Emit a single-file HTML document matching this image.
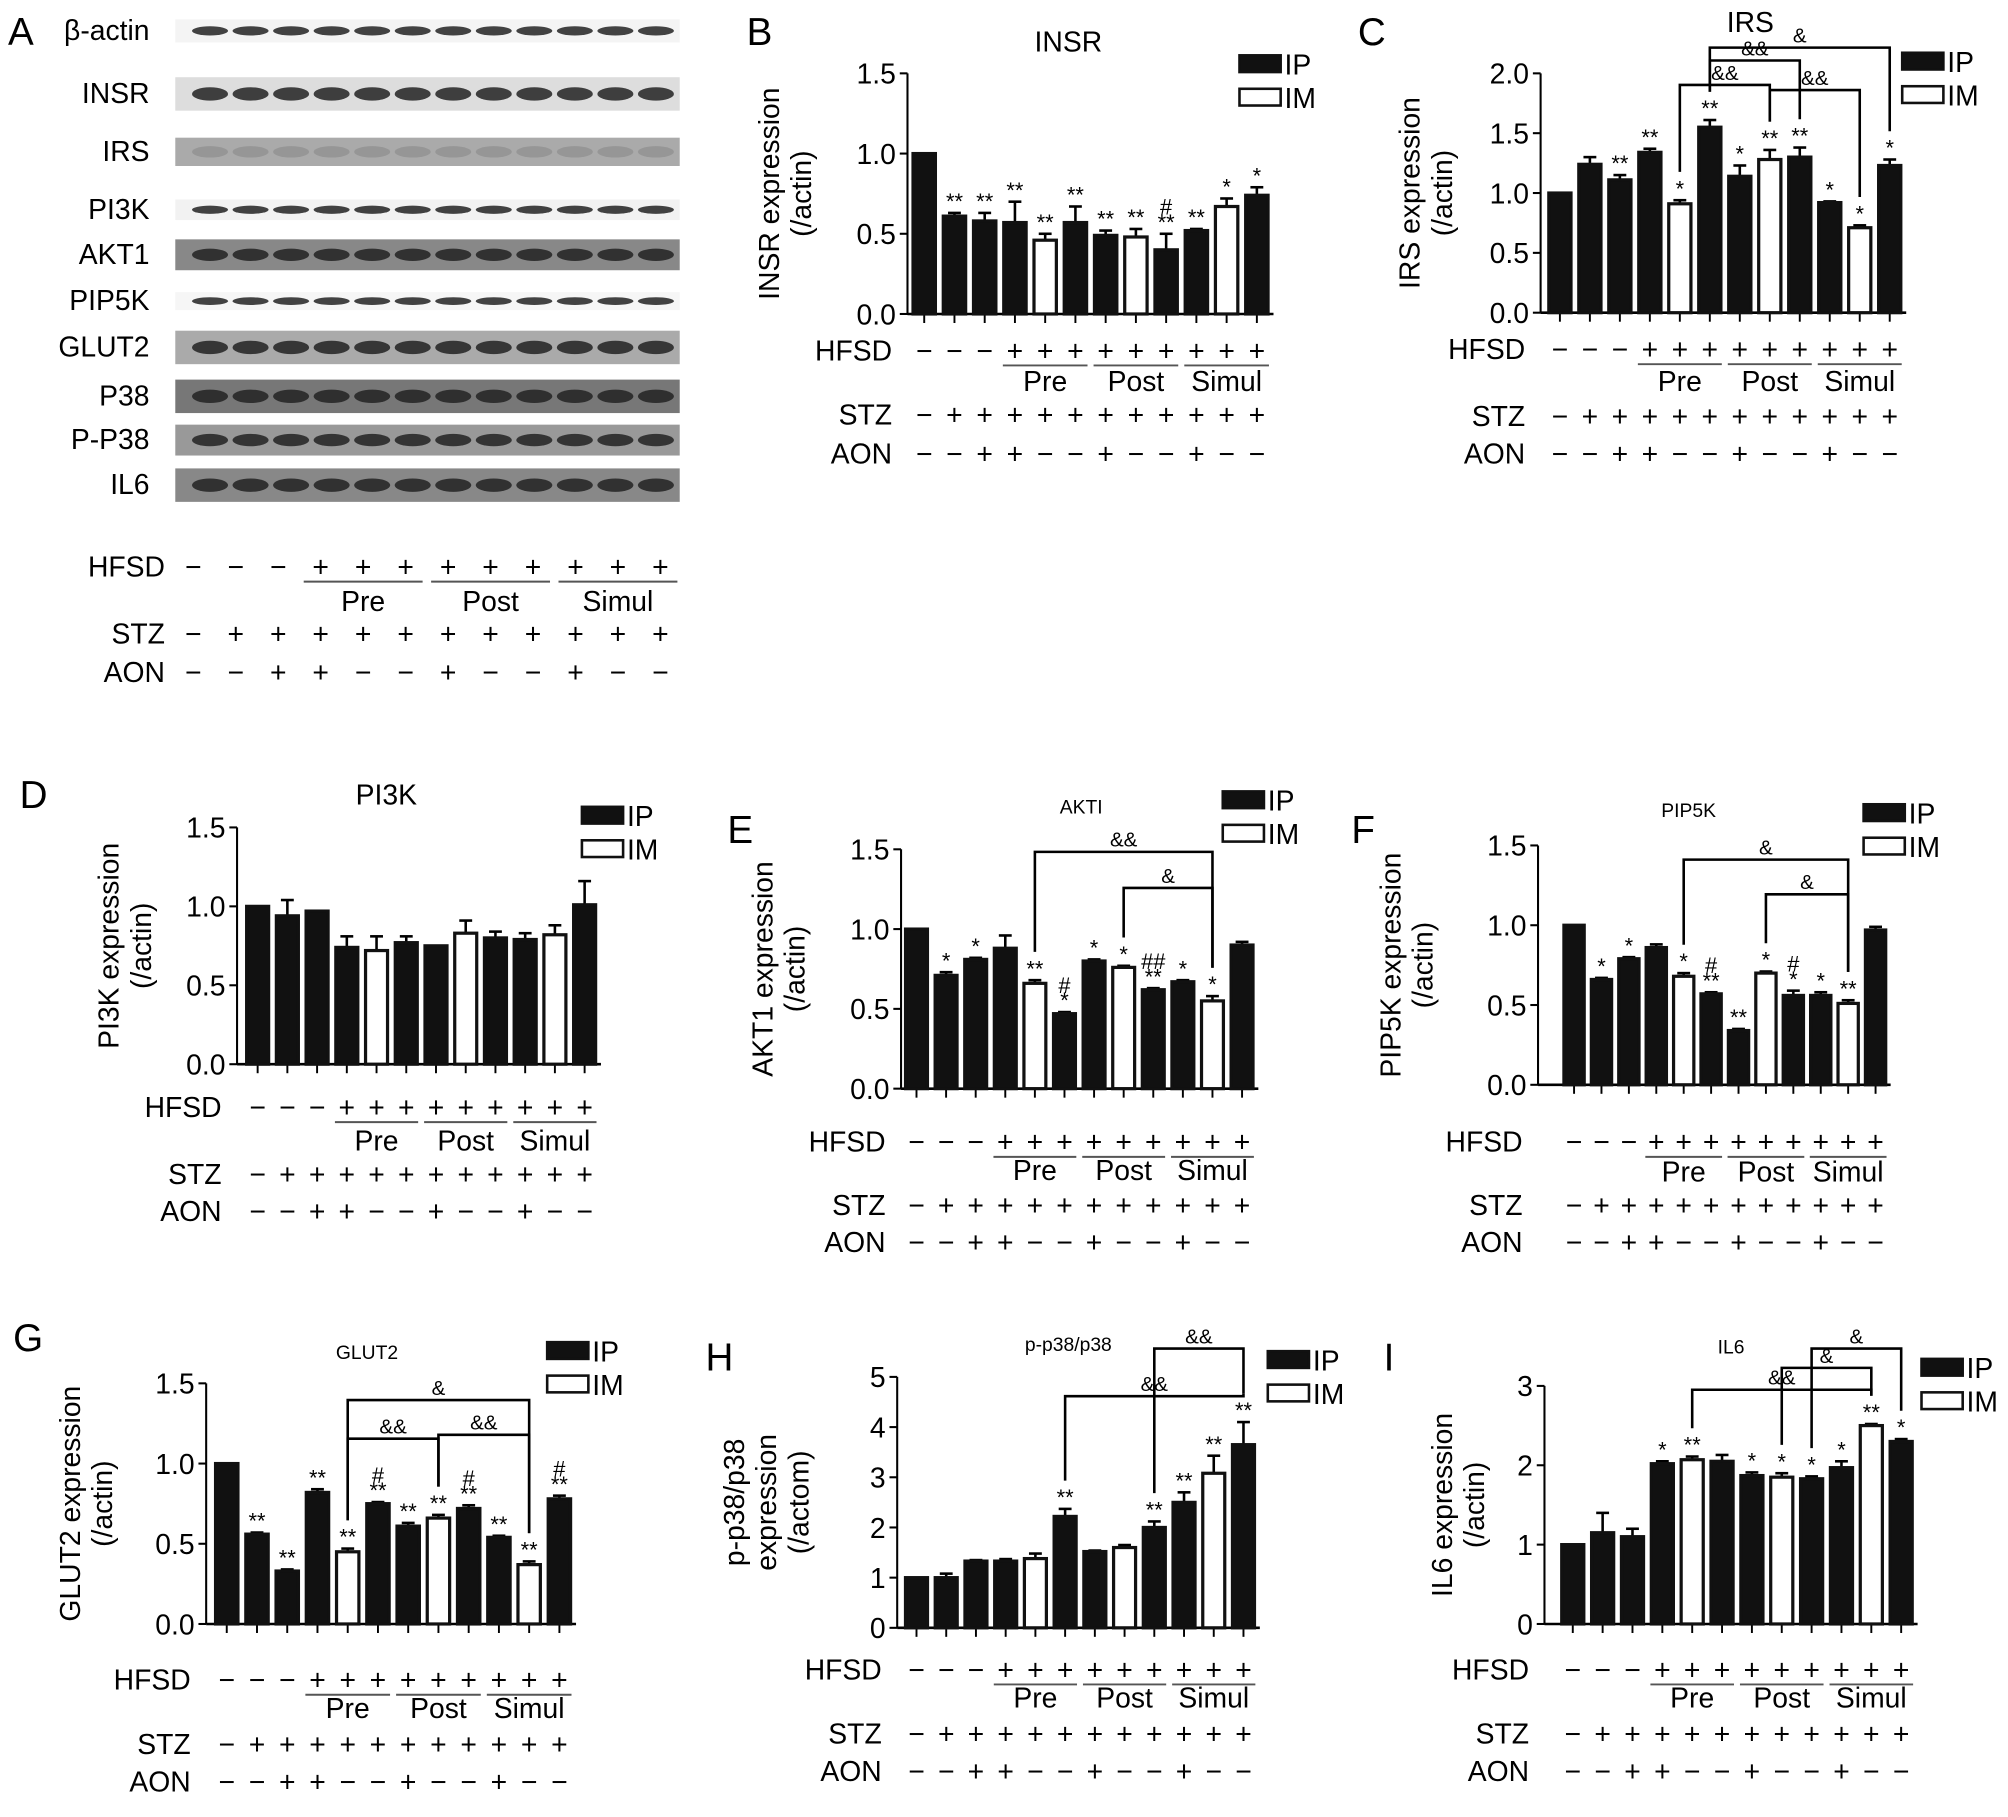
<!DOCTYPE html>
<html><head><meta charset="utf-8"><style>
html,body{margin:0;padding:0;background:#fff}
svg{display:block}
text{font-family:"Liberation Sans",sans-serif;fill:#000}
</style></head><body>
<svg id="fig" width="2008" height="1817" viewBox="0 0 1560 1412" xmlns="http://www.w3.org/2000/svg"></svg>
<script>
const NS='http://www.w3.org/2000/svg';
const svg=document.getElementById('fig');
function el(tag,attrs,parent,txt){const e=document.createElementNS(NS,tag);for(const k in attrs)e.setAttribute(k,attrs[k]);if(txt!==undefined)e.textContent=txt;(parent||svg).appendChild(e);return e;}

const hfsdRow=['-','-','-','+','+','+','+','+','+','+','+','+'];
const stzRow=['-','+','+','+','+','+','+','+','+','+','+','+'];
const aonRow=['-','-','+','+','-','-','+','-','-','+','-','-'];
const groupNames=['Pre','Post','Simul'];
const openIdx=[4,7,10];

const insrVals=[1.0,0.61,0.58,0.57,0.46,0.57,0.49,0.48,0.40,0.52,0.67,0.74];
const insrErr=[0,0.02,0.05,0.13,0.04,0.10,0.03,0.05,0.10,0.01,0.05,0.05];
const insrStars=['','**','**','**','**','**','**','**','#\n**','**','*','*'];
const irsVals=[1.0,1.24,1.11,1.34,0.91,1.55,1.14,1.28,1.30,0.92,0.71,1.23];
const irsErr=[0,0.06,0.04,0.03,0.03,0.06,0.09,0.08,0.08,0.01,0.02,0.05];
const irsStars=['','','**','**','*','**','*','**','**','*','*','*'];
const pi3kVals=[1.0,0.94,0.97,0.74,0.72,0.77,0.75,0.83,0.80,0.79,0.82,1.01];
const pi3kErr=[0,0.10,0,0.07,0.09,0.04,0,0.08,0.04,0.04,0.06,0.15];
const pi3kStars=['','','','','','','','','','','',''];
const akt1Vals=[1.0,0.71,0.81,0.88,0.66,0.47,0.80,0.76,0.62,0.67,0.55,0.90];
const akt1Err=[0,0.02,0.01,0.08,0.02,0.01,0.01,0.01,0.01,0.01,0.03,0.02];
const akt1Stars=['','*','*','','**','#\n*','*','*','##\n**','*','*',''];
const pip5kVals=[1.0,0.66,0.79,0.86,0.68,0.57,0.34,0.70,0.56,0.56,0.51,0.97];
const pip5kErr=[0,0.01,0.01,0.02,0.02,0.01,0.01,0.01,0.03,0.02,0.02,0.02];
const pip5kStars=['','*','*','','*','#\n**','**','*','#\n*','*','**',''];
const glut2Vals=[1.0,0.56,0.33,0.82,0.45,0.75,0.61,0.66,0.72,0.54,0.37,0.78];
const glut2Err=[0,0.01,0.01,0.02,0.02,0.01,0.02,0.02,0.02,0.01,0.02,0.02];
const glut2Stars=['','**','**','**','**','#\n**','**','**','#\n**','**','**','#\n**'];
const p38Vals=[1.0,1.0,1.33,1.33,1.38,2.22,1.52,1.6,2.0,2.5,3.08,3.65];
const p38Err=[0,0.08,0.02,0.04,0.1,0.15,0.02,0.05,0.12,0.2,0.35,0.45];
const p38Stars=['','','','','','**','','','**','**','**','**'];
const il6Vals=[1.0,1.15,1.1,2.02,2.07,2.05,1.87,1.85,1.83,1.97,2.5,2.3];
const il6Err=[0,0.25,0.1,0.03,0.04,0.08,0.04,0.05,0.03,0.08,0.02,0.03];
const il6Stars=['','','','*','**','','*','*','*','*','**','*'];

const panels=[
 {id:'insr',letter:'B',lx:580,ly:35,title:'INSR',tx:830,ty:40,tfs:22,ax:705,y0:244,yt:57,ymax:1.5,ticks:['0.0','0.5','1.0','1.5'],tv:[0,0.5,1,1.5],b0:718,step:23.5,ylab:['INSR expression','(/actin)'],ylx:605,vals:insrVals,err:insrErr,stars:insrStars,rows:[272,295,322,352],leg:[963,50],br:[]},
 {id:'irs',letter:'C',lx:1055,ly:35,title:'IRS',tx:1360,ty:25,tfs:22,ax:1197,y0:243,yt:57,ymax:2.0,ticks:['0.0','0.5','1.0','1.5','2.0'],tv:[0,0.5,1,1.5,2],b0:1212,step:23.3,ylab:['IRS expression','(/actin)'],ylx:1103,vals:irsVals,err:irsErr,stars:irsStars,rows:[271,295,323,352],leg:[1478,48],br:[[4,7,66,'&&'],[5,8,47,'&&'],[7,10,70,'&&'],[5,11,37,'&']]},
 {id:'pi3k',letter:'D',lx:15,ly:628,title:'PI3K',tx:300,ty:625,tfs:22,ax:184,y0:827,yt:643,ymax:1.5,ticks:['0.0','0.5','1.0','1.5'],tv:[0,0.5,1,1.5],b0:200,step:23.1,ylab:['PI3K expression','(/actin)'],ylx:92,vals:pi3kVals,err:pi3kErr,stars:pi3kStars,rows:[860,885,912,941],leg:[452,634],br:[]},
 {id:'akt1',letter:'E',lx:565,ly:655,title:'AKTI',tx:840,ty:632,tfs:15,ax:700,y0:846,yt:660,ymax:1.5,ticks:['0.0','0.5','1.0','1.5'],tv:[0,0.5,1,1.5],b0:712,step:23.0,ylab:['AKT1 expression','(/actin)'],ylx:600,vals:akt1Vals,err:akt1Err,stars:akt1Stars,rows:[887,908,936,965],leg:[950,622],br:[[4,10,662,'&&'],[7,10,690,'&']]},
 {id:'pip5k',letter:'F',lx:1050,ly:655,title:'PIP5K',tx:1312,ty:635,tfs:15,ax:1195,y0:843,yt:657,ymax:1.5,ticks:['0.0','0.5','1.0','1.5'],tv:[0,0.5,1,1.5],b0:1223,step:21.3,ylab:['PIP5K expression','(/actin)'],ylx:1088,vals:pip5kVals,err:pip5kErr,stars:pip5kStars,rows:[887,909,936,965],leg:[1448,632],br:[[4,10,668,'&'],[7,10,695,'&']]},
 {id:'glut2',letter:'G',lx:10,ly:1050,title:'GLUT2',tx:285,ty:1056,tfs:15,ax:160,y0:1262,yt:1075,ymax:1.5,ticks:['0.0','0.5','1.0','1.5'],tv:[0,0.5,1,1.5],b0:176,step:23.5,ylab:['GLUT2 expression','(/actin)'],ylx:62,vals:glut2Vals,err:glut2Err,stars:glut2Stars,rows:[1305,1326,1355,1384],leg:[425,1050],br:[[4,10,1088,'&'],[4,7,1118,'&&'],[7,10,1115,'&&']]},
 {id:'p38',letter:'H',lx:548,ly:1065,title:'p-p38/p38',tx:830,ty:1050,tfs:15,ax:697,y0:1265,yt:1070,ymax:5,ticks:['0','1','2','3','4','5'],tv:[0,1,2,3,4,5],b0:712,step:23.1,ylab:['p-p38/p38','expression','(/actom)'],ylx:578,vals:p38Vals,err:p38Err,stars:p38Stars,rows:[1297,1318,1347,1376],leg:[985,1057],br:[[5,11,1085,'&&'],[8,11,1048,'&&']]},
 {id:'il6',letter:'I',lx:1075,ly:1065,title:'IL6',tx:1345,ty:1052,tfs:15,ax:1200,y0:1262,yt:1077,ymax:3,ticks:['0','1','2','3'],tv:[0,1,2,3],b0:1222,step:23.2,ylab:['IL6 expression','(/actin)'],ylx:1128,vals:il6Vals,err:il6Err,stars:il6Stars,rows:[1297,1318,1347,1376],leg:[1493,1063],br:[[4,10,1080,'&&'],[7,10,1063,'&'],[8,11,1048,'&']]}
];

function drawPanel(p){
 const g=el('g',{},svg);
 
 
 const y=v=>p.y0-(v/p.ymax)*(p.y0-p.yt);
 const x=i=>p.b0+i*p.step;
 const bw=p.step*0.74;
 const L=el('text',{x:p.lx,y:p.ly,'font-size':30},g,p.letter);
 
 const T=el('text',{x:p.tx,y:p.ty,'font-size':p.tfs,'text-anchor':'middle'},g,p.title);
 
 const midY=(p.y0+p.yt)/2;
 p.ylab.forEach((s,k)=>{
  const t=el('text',{x:0,y:0,'font-size':22,'text-anchor':'middle',transform:`translate(${p.ylx+k*25},${midY}) rotate(-90)`},g,s);
  
 });
 const xend=x(p.vals.length-1)+p.step*0.55;
 el('line',{x1:p.ax,y1:p.yt,x2:p.ax,y2:p.y0,stroke:'#000','stroke-width':1.6},g);
 el('line',{x1:p.ax,y1:p.y0,x2:xend,y2:p.y0,stroke:'#000','stroke-width':2},g);
 p.tv.forEach((v,k)=>{
  el('line',{x1:p.ax-6,y1:y(v),x2:p.ax,y2:y(v),stroke:'#000','stroke-width':1.6},g);
  const t=el('text',{x:p.ax-9,y:y(v)+8,'font-size':22,'text-anchor':'end'},g,p.ticks[k]);
  
 });
 p.vals.forEach((v,i)=>{
  const open=openIdx.includes(i);
  el('line',{x1:x(i),y1:p.y0,x2:x(i),y2:p.y0+7,stroke:'#000','stroke-width':1.5},g);
  const top=y(v+p.err[i]);
  if(p.err[i]>0){el('line',{x1:x(i),y1:y(v),x2:x(i),y2:top,stroke:'#000','stroke-width':2},g);
   el('line',{x1:x(i)-5,y1:top,x2:x(i)+5,y2:top,stroke:'#000','stroke-width':2},g);}
  const r=el('rect',{x:x(i)-bw/2,y:y(v),width:bw,height:p.y0-y(v),fill:open?'#fff':'#111',stroke:'#111','stroke-width':2.5},g);
  
  const lines=p.stars[i].split('\n');
  lines.forEach((s,k)=>{ if(!s)return;
   const t=el('text',{x:x(i),y:top-3-(lines.length-1-k)*12,'font-size':17,'text-anchor':'middle'},g,s);
   
  });
 });
 p.br.forEach(b=>{
  const [a,c,by,lab]=b;
  const ya=y(p.vals[a]+p.err[a])-22,yc=y(p.vals[c]+p.err[c])-22;
  el('polyline',{points:`${x(a)},${ya} ${x(a)},${by} ${x(c)},${by} ${x(c)},${yc}`,fill:'none',stroke:'#000','stroke-width':2},g);
  const t=el('text',{x:(x(a)+x(c))/2,y:by-4,'font-size':16,'text-anchor':'middle'},g,lab);
  
 });
 const [lgx,lgy]=p.leg;
 el('rect',{x:lgx,y:lgy-7,width:32,height:13,fill:'#111',stroke:'#111','stroke-width':2},g);
 const l1=el('text',{x:lgx+35,y:lgy+8,'font-size':22},g,'IP');
 
 el('rect',{x:lgx,y:lgy+19,width:32,height:13,fill:'#fff',stroke:'#111','stroke-width':2},g);
 const l2=el('text',{x:lgx+35,y:lgy+34,'font-size':22},g,'IM');
 
 drawRows(g,p.ax-12,x,p.rows,p.step);
}
function drawRows(g,labX,x,rows,step){
 const names=['HFSD',null,'STZ','AON'];const data=[hfsdRow,null,stzRow,aonRow];
 [0,2,3].forEach(r=>{
  const t=el('text',{x:labX,y:rows[r]+8,'font-size':22,'text-anchor':'end'},g,names[r]);
  
  data[r].forEach((s,i)=>{
   const c=el('text',{x:x(i),y:rows[r]+8,'font-size':22,'text-anchor':'middle'},g,s==='-'?'−':'+');
   
  });
 });
 groupNames.forEach((n,k)=>{
  const a=x(3+k*3)-step*0.4,b=x(5+k*3)+step*0.4;
  el('line',{x1:a,y1:rows[0]+12,x2:b,y2:rows[0]+12,stroke:'#555','stroke-width':1.5},g);
  const t=el('text',{x:(a+b)/2,y:rows[1]+9,'font-size':22,'text-anchor':'middle'},g,n);
  
 });
}
panels.forEach(drawPanel);

const blotNames=['β-actin','INSR','IRS','PI3K','AKT1','PIP5K','GLUT2','P38','P-P38','IL6'];
const blotY=[24,73,118,163,198,234,270,308,342,377];
const blotBg=['#f4f4f4','#ddd','#aaa','#f2f2f2','#888','#f6f6f6','#aaa','#777','#999','#888'];
const blotH=[18,26,22,16,24,14,26,26,24,26];
const lanes=12;
const gA=el('g',{},svg);


const la=el('text',{x:6,y:35,'font-size':30},gA,'A');

const laneX=i=>160+i*31.5;
blotNames.forEach((n,k)=>{
 const t=el('text',{x:116,y:blotY[k]+7,'font-size':22,'text-anchor':'end'},gA,n);
 
 const cy=blotY[k];
 el('rect',{x:136,y:cy-blotH[k]/2,width:392,height:blotH[k],fill:blotBg[k]},gA);
 for(let i=0;i<lanes;i++){
  el('ellipse',{cx:laneX(i)+3,cy:cy,rx:14,ry:Math.max(3,blotH[k]*0.2),fill:k===2?'#888':'#222',opacity:k===2?0.6:0.85},gA);
 }
});
drawRows(gA,128,i=>150+i*33,[440,466,492,522],33);
</script>
</body></html>
